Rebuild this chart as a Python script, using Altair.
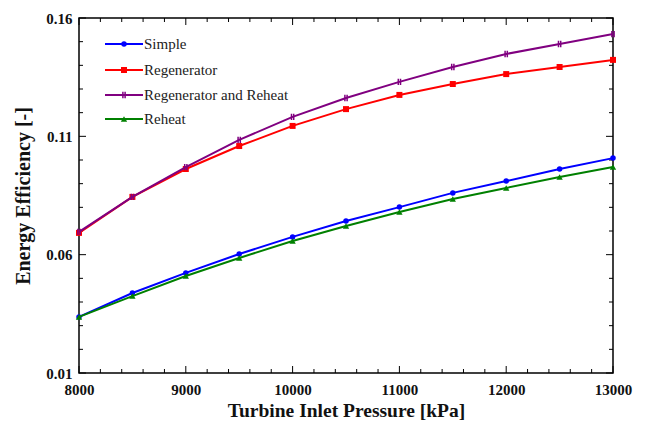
import altair as alt
import pandas as pd

pressure = [8000, 8500, 9000, 9500, 10000, 10500, 11000, 11500, 12000, 12500, 13000]
simple = [0.0337, 0.0438, 0.0523, 0.0603, 0.0675, 0.0742, 0.0801, 0.0861, 0.0911, 0.0962, 0.1008]
regenerator = [0.0692, 0.0844, 0.0962, 0.1059, 0.1144, 0.1215, 0.1275, 0.1321, 0.1363, 0.1393, 0.1423]
regen_reheat = [0.0696, 0.0844, 0.0970, 0.1085, 0.1182, 0.1262, 0.1330, 0.1393, 0.1448, 0.1490, 0.1532]
reheat = [0.0337, 0.0425, 0.0510, 0.0586, 0.0658, 0.0721, 0.0780, 0.0835, 0.0882, 0.0928, 0.0970]

series_names = ["Simple", "Regenerator", "Regenerator and Reheat", "Reheat"]
series_values = [simple, regenerator, regen_reheat, reheat]
colors = ["#0000ff", "#ff0000", "#800080", "#008000"]
shapes = ["circle", "square", "M-0.35,-1V1M0.35,-1V1", "triangle-up"]
filled = [True, True, False, True]
sizes = [30, 36, 40, 40]

x_major = [8000, 9000, 10000, 11000, 12000, 13000]
y_major = [0.01, 0.06, 0.11, 0.16]

W, H = 534, 355
FONT = "Liberation Serif"

xs = alt.Scale(domain=[8000, 13000], nice=False, zero=False)
ys = alt.Scale(domain=[0.01, 0.16], nice=False, zero=False)

layers = []

# tick marks (inward)
x_minor = [v for v in range(8000, 13001, 200) if v not in x_major]
y_minor = [round(0.01 + 0.01 * i, 2) for i in range(16) if round(0.01 + 0.01 * i, 2) not in y_major]
xt = pd.DataFrame({"v": x_major + x_minor, "len": [7] * len(x_major) + [4] * len(x_minor)})
yt = pd.DataFrame({"v": y_major + y_minor, "len": [7] * len(y_major) + [4] * len(y_minor)})

for df, L in [(xt[xt.len == 7], 7), (xt[xt.len == 4], 4)]:
    base = alt.Chart(df).mark_rule(color="black", strokeWidth=1)
    layers.append(base.encode(x=alt.X("v:Q", scale=xs), y=alt.value(H), y2=alt.value(H - L)))
    layers.append(base.encode(x=alt.X("v:Q", scale=xs), y=alt.value(0), y2=alt.value(L)))
for df, L in [(yt[yt.len == 7], 7), (yt[yt.len == 4], 4)]:
    base = alt.Chart(df).mark_rule(color="black", strokeWidth=1)
    layers.append(base.encode(y=alt.Y("v:Q", scale=ys), x=alt.value(0), x2=alt.value(L)))
    layers.append(base.encode(y=alt.Y("v:Q", scale=ys), x=alt.value(W), x2=alt.value(W - L)))

# series
for name, vals, c, shp, f, s in zip(series_names, series_values, colors, shapes, filled, sizes):
    df = pd.DataFrame({"p": pressure, "e": vals, "s": name})
    enc = dict(
        x=alt.X("p:Q", scale=xs, title="Turbine Inlet Pressure [kPa]",
                axis=alt.Axis(values=x_major, format="d", ticks=False, domain=False, grid=False,
                              labelFlush=False)),
        y=alt.Y("e:Q", scale=ys, title="Energy Efficiency [-]",
                axis=alt.Axis(values=y_major, format=".2f", ticks=False, domain=False, grid=False,
                              labelFlush=False)),
    )
    layers.append(alt.Chart(df).mark_line(color=c, strokeWidth=2).encode(**enc))
    layers.append(alt.Chart(df).mark_point(color=c, shape=shp, filled=f, size=s, opacity=1,
                                           strokeWidth=1.5).encode(**enc))

# legend
leg_y = [26, 52, 77, 101]
for name, c, shp, f, s, ly in zip(series_names, colors, shapes, filled, sizes, leg_y):
    d = pd.DataFrame({"s": [name]})
    layers.append(alt.Chart(d).mark_rule(color=c, strokeWidth=2).encode(
        x=alt.value(26), x2=alt.value(64), y=alt.value(ly)))
    layers.append(alt.Chart(d).mark_point(color=c, shape=shp, filled=f, size=s, opacity=1,
                                          strokeWidth=1.5).encode(x=alt.value(45), y=alt.value(ly)))
    layers.append(alt.Chart(d).mark_text(align="left", baseline="middle", font=FONT, fontSize=15,
                                         color="#222").encode(
        x=alt.value(65), y=alt.value(ly), text="s:N"))

chart = alt.layer(*layers).properties(
    width=W, height=H,
    autosize=alt.AutoSizeParams(type="none"),
    padding={"left": 79, "top": 18, "right": 32, "bottom": 50},
).configure_view(stroke="black", strokeWidth=1.5).configure_axis(
    labelFont=FONT, labelFontSize=15, labelFontWeight="bold", labelColor="#111",
    titleFont=FONT, titleFontWeight="bold", titleColor="#111",
).configure_axisX(titlePadding=4, labelPadding=9, titleFontSize=19.5).configure_axisY(
    titlePadding=12, labelPadding=7, titleFontSize=20)

chart.save("out.html", embed_options={"renderer": "svg", "actions": False})
